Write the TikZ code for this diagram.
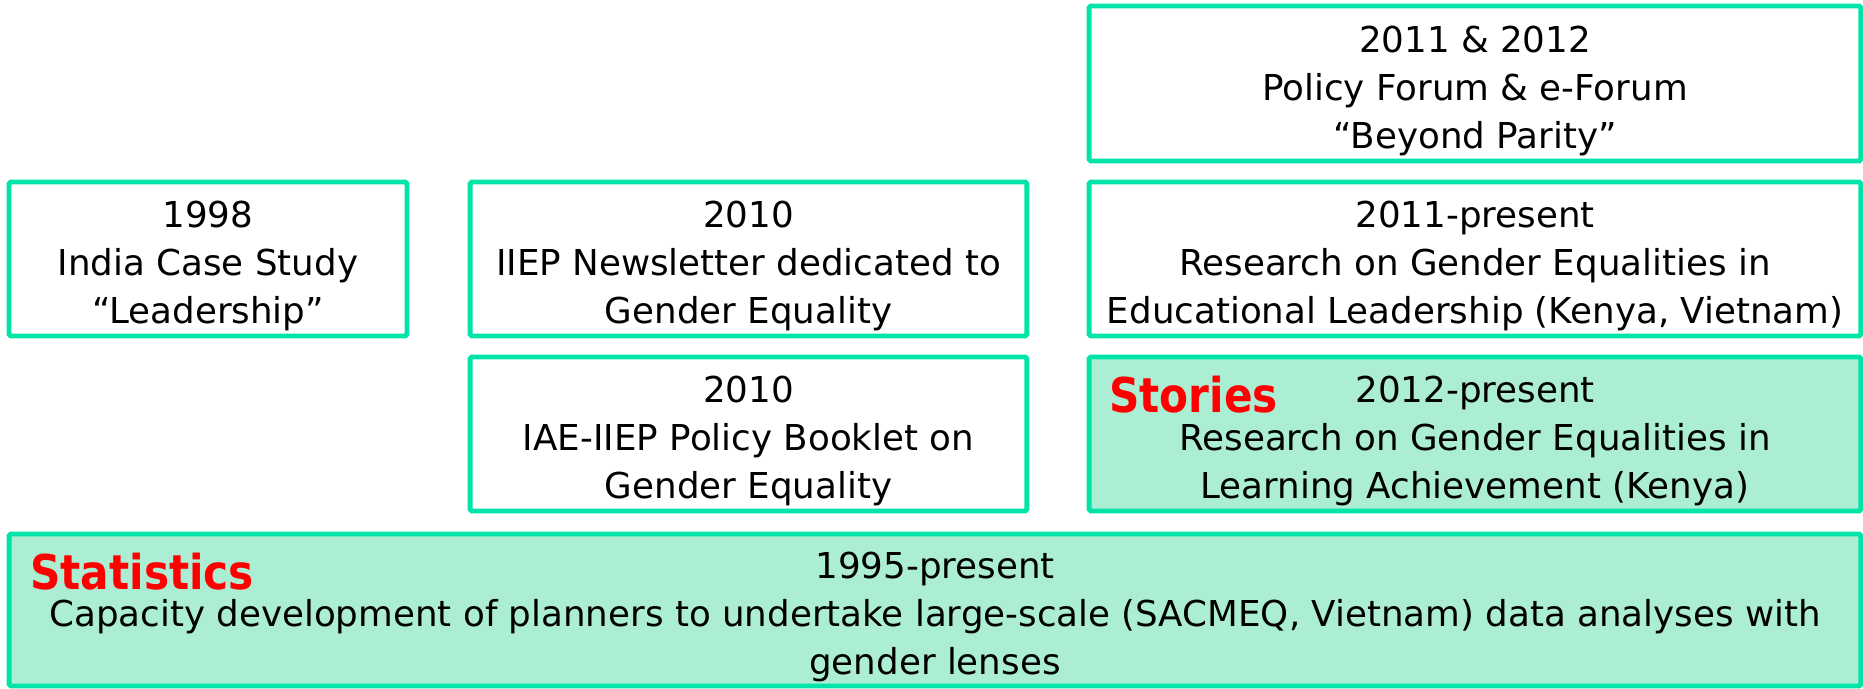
\documentclass[tikz,border=0pt]{standalone}
\usepackage{fontspec}
\setmainfont{DejaVu Sans}[BoldFeatures={FakeStretch=0.88}]
\usepackage{tikz}
\usetikzlibrary{positioning}
\usepackage{xcolor}
\definecolor{ieborder}{RGB}{0,228,168}
\definecolor{iefill}{RGB}{171,238,211}
\definecolor{iered}{RGB}{255,0,0}
% struts that push the lines a little below the centre, as in the slide
\newcommand{\firstln}{\rule{0pt}{25pt}}
\newcommand{\lastln}{\rule[-5.7pt]{0pt}{0pt}}
\tikzstyle{event} = [rectangle, rounded corners=1pt, draw=ieborder, line width=2.8pt, fill=white, align=center, inner sep=0pt, font=\fontsize{20.3}{27.3}\selectfont]
\tikzstyle{topic} = [event, fill=iefill]
\tikzstyle{tag} = [anchor=base west, inner sep=0pt, text=iered, font=\fontsize{27.3}{30}\selectfont\bfseries]

\begin{document}
\begin{tikzpicture}[x=0.02cm, y=-0.02cm]
\useasboundingbox (0,0) rectangle (1863,689);

% Top right
\node (forum) [event, minimum width=15.44cm, minimum height=3.1cm] at (1475,83.5) {\firstln 2011 \& 2012\\Policy Forum \& e-Forum\\“Beyond Parity”\lastln};

% Middle row
\node (india) [event, minimum width=7.96cm, minimum height=3.08cm] at (208,259) {\firstln 1998\\India Case Study\\“Leadership”\lastln};
\node (newsletter) [event, minimum width=11.14cm, minimum height=3.08cm] at (748.5,259) {\firstln 2010\\IIEP Newsletter dedicated to\\Gender Equality\lastln};
\node (leadership) [event, minimum width=15.44cm, minimum height=3.08cm] at (1475,259) {\firstln 2011-present\\Research on Gender Equalities in\\Educational Leadership (Kenya, Vietnam)\lastln};

% Lower row
\node (booklet) [event, minimum width=11.14cm, minimum height=3.08cm] at (748.5,434) {\firstln 2010\\IAE-IIEP Policy Booklet on\\Gender Equality\lastln};
\node (learning) [topic, minimum width=15.44cm, minimum height=3.08cm] at (1475,434) {\firstln 2012-present\\Research on Gender Equalities in\\Learning Achievement (Kenya)\lastln};

% Statistics at the bottom
\node (capacity) [topic, minimum width=37.04cm, minimum height=3.04cm] at (935,610) {\firstln 1995-present\\Capacity development of planners to undertake large-scale (SACMEQ, Vietnam) data analyses with\\gender lenses\lastln};

% Tags
\node (stories) [tag] at (1109,412) {Stories};
\node (statistics) [tag] at (30,589) {Statistics};
\end{tikzpicture}
\end{document}
